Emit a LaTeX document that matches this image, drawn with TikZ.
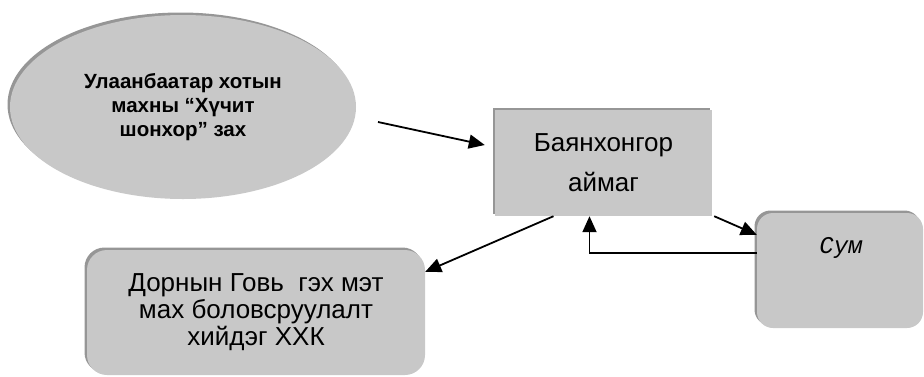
\documentclass[tikz,border=0pt]{standalone}
\usepackage{fontspec}
\setmainfont{Liberation Sans}
\setmonofont{Liberation Mono}
\usetikzlibrary{shapes.geometric, arrows.meta, positioning, calc, shadows}
\definecolor{boxgray}{RGB}{200,200,200}
\definecolor{rimgray}{RGB}{150,150,150}

\begin{document}
\begin{tikzpicture}[
    x=1pt, y=-1pt,
    rim/.style={drop shadow={shadow xshift=-2.5pt, shadow yshift=2.5pt, opacity=1, fill=rimgray}},
    oval/.style={ellipse, fill=boxgray, rim, inner sep=0pt, minimum width=346pt, minimum height=184pt, align=center, font=\bfseries\fontsize{20.5}{24}\selectfont},
    plainbox/.style={rectangle, fill=boxgray, rim, inner sep=0pt, align=center, font=\fontsize{26}{40}\selectfont},
    roundbox/.style={rectangle, fill=boxgray, rim, rounded corners=16pt, inner sep=0pt, align=center, font=\fontsize{26}{27}\selectfont},
    arrow/.style={-{Triangle[length=16pt, width=14pt]}, line width=1.8pt, black}
]
    \useasboundingbox (0,0) rectangle (924,376);

    % Source market
    \node[oval] (market) at (183,107) {Улаанбаатар хотын\\махны “Хүчит\\шонхор” зах};

    % Province and district
    \node[plainbox, minimum width=217pt, minimum height=106pt] (aimag) at (603.5,163) {Баянхонгор\\аймаг};
    \node[roundbox, minimum width=166pt, minimum height=115pt] (sum) at (840,270.5) {};
    \node[font=\ttfamily\itshape\fontsize{24}{24}\selectfont] (sumtext) at (841,248) {Сум};

    % Processing company
    \node[roundbox, rounded corners=20pt, minimum width=338pt, minimum height=125pt] (dorn) at (256,312.5) {Дорнын Говь \ гэх мэт\\мах боловсруулалт\\хийдэг ХХК};

    % Connectors
    \coordinate (from_market) at (378,122);
    \draw[arrow] (from_market) -- ([xshift=-10pt, yshift=18pt]aimag.west);
    \draw[arrow] ([xshift=-50pt]aimag.south) -- ([yshift=-22pt]dorn.north east);
    \draw[arrow] ([xshift=2pt]aimag.south east) -- ([yshift=-22pt]sum.north west);
    \draw[arrow] ([yshift=-40pt]sum.north west) -| ([xshift=-14pt]aimag.south);

\end{tikzpicture}
\end{document}
